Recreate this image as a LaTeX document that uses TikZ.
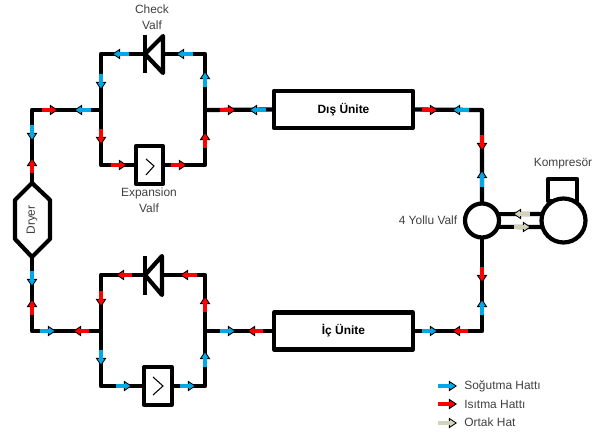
\documentclass[tikz,border=0pt]{standalone}
\usepackage{fontspec}
\setmainfont{Liberation Sans}
\usetikzlibrary{arrows.meta}
\definecolor{sogutma}{HTML}{00A8E8}
\definecolor{isitma}{HTML}{FF0000}
\definecolor{ortak}{HTML}{D4D2B8}
\definecolor{yazi}{HTML}{404040}
\tikzset{
  boru/.style={draw=black, line width=2.4pt, line join=round},
  unite/.style={boru, fill=white, outer sep=0pt, inner sep=0pt, minimum width=2.78cm, minimum height=0.74cm, font=\fontsize{6.8}{8}\selectfont\bfseries},
  kutu/.style={boru, fill=white, outer sep=0pt, inner sep=0pt, minimum width=0.55cm, minimum height=0.75cm},
  daire/.style={boru, fill=white, circle, outer sep=0pt, inner sep=0pt},
  yazi/.style={color=yazi, font=\fontsize{6.8}{8}\selectfont, inner sep=0pt, align=center},
  akis/.style={color=#1, line width=1.8pt,
    preaction={draw=black, line width=2.6pt, shorten >=3pt, arrows=-},
    postaction={draw=#1, line width=1.8pt, shorten >=2.6pt, arrows=-},
    -{Triangle[length=4.6pt, width=6pt, color=black, fill=#1, line width=0.5pt]}},
}
\begin{document}
\begin{tikzpicture}[x=0.02cm, y=-0.02cm]
\useasboundingbox (0,0) rectangle (599,432);

\node[unite] (disunite) at (343.5,109.5) {Dış Ünite};
\node[unite] (icunite) at (343.5,331) {İç Ünite};
\node[kutu] (exp1) at (149.5,165) {};
\node[kutu] (exp2) at (158,386) {};
\node[boru, fill=white, outer sep=0pt, inner sep=0pt, minimum width=0.58cm, minimum height=0.44cm] (kompresorust) at (562.5,190) {};
\node[daire, minimum size=0.68cm] (dortyol) at (482,220.5) {};
\node[daire, minimum size=0.88cm] (kompresor) at (563.5,220.5) {};

\coordinate (drayerust) at (32,183);
\coordinate (drayeralt) at (32,257);
\coordinate (sol1) at (101,110);
\coordinate (sag1) at (205,110);
\coordinate (sol2) at (101,331);
\coordinate (sag2) at (205,331);
\coordinate (cek1) at (145,54);
\coordinate (cek1b) at (163,54);
\coordinate (cek2) at (145,275);
\coordinate (cek2b) at (162,275);
\coordinate (kose1) at (482,110);
\coordinate (kose2) at (482,331);

\draw[boru] (drayerust) |- (sol1);
\draw[boru] (drayeralt) |- (sol2);
\draw[boru] (cek1) -| (sol1) |- (exp1.west);
\draw[boru] (cek1b) -| (sag1) |- (exp1.east);
\draw[boru] (cek2) -| (sol2) |- (exp2.west);
\draw[boru] (cek2b) -| (sag2) |- (exp2.east);
\draw[boru] (sag1) -- (disunite.west);
\draw[boru] (sag2) -- (icunite.west);
\draw[boru] (disunite.east) -- (kose1) -- (dortyol.north);
\draw[boru] (icunite.east) -- (kose2) -- (dortyol.south);
\draw[boru] (dortyol.22) -- (kompresor.163);
\draw[boru] (dortyol.-22) -- (kompresor.-163);

\draw[boru, fill=white] (drayerust) -- (50,200) -- (50,239) -- (drayeralt) -- (15,239) -- (15,200) -- cycle;
\node[yazi, rotate=90] (drayer) at (32,220) {Dryer};

\draw[boru] (145,35) -- (145,73);
\draw[boru] (cek1) -- (163,36) -- (163,73) -- cycle;
\draw[boru] (145,256) -- (145,295);
\draw[boru] (cek2) -- (162,256) -- (162,295) -- cycle;

\draw[black, line width=0.6pt] (146,159) -- (154,166) -- (146,175);
\draw[black, line width=0.6pt] (153,377) -- (163,386) -- (153,395);

\foreach \ax/\ay/\bx/\by in {129/54/112/54, 193/54/176/54, 205/87/205/71, 101/74/101/90,
  91/110/74/110, 266/110/249/110, 32/125/32/141, 469/110/452/110, 482/187/482/170,
  482/315/482/299, 422/331/438/331, 32/271/32/287, 40/331/56/331, 101/350/101/366,
  116/386/132/386, 180/386/196/386, 205/367/205/351, 220/331/236/331, 438/386/457/386}
  \draw[akis=sogutma] (\ax,\ay) -- (\bx,\by);

\foreach \ax/\ay/\bx/\by in {42/110/58/110, 32/173/32/158, 101/129/101/145, 111/165/127/165,
  171/165/187/165, 205/148/205/132, 220/110/236/110, 422/110/438/110, 482/135/482/151,
  482/267/482/283, 468/331/452/331, 197/275/180/275, 132/275/116/275, 101/291/101/307,
  205/312/205/296, 263/331/247/331, 32/315/32/299, 89/331/73/331, 438/404/457/404}
  \draw[akis=isitma] (\ax,\ay) -- (\bx,\by);

\foreach \ax/\ay/\bx/\by in {530/214/513/214, 514/227/531/227, 438/423/457/423}
  \draw[akis=ortak] (\ax,\ay) -- (\bx,\by);

\node[yazi] (cekvalf) at (152,17.5) {Check\\[1.2pt]Valf};
\node[yazi] (expvalf) at (149,200.5) {Expansion\\[1.2pt]Valf};
\node[yazi] (kompyazi) at (563,164) {Kompresör};
\node[yazi] (dortyazi) at (428,220) {4 Yollu Valf};
\node[yazi, anchor=west] (lej1) at (464,386) {Soğutma Hattı};
\node[yazi, anchor=west] (lej2) at (464,404) {Isıtma Hattı};
\node[yazi, anchor=west] (lej3) at (464,422) {Ortak Hat};
\end{tikzpicture}
\end{document}
